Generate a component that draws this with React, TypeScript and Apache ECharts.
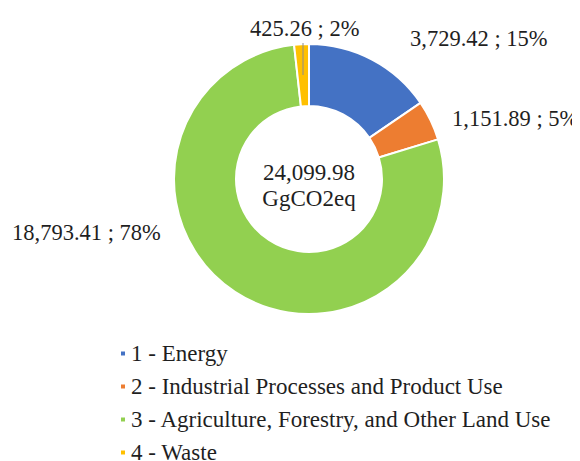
import React, { useEffect, useRef } from "react";
import * as echarts from "echarts";

const categories = [
  "1 - Energy",
  "2 - Industrial Processes and Product Use",
  "3 - Agriculture, Forestry, and Other Land Use",
  "4 - Waste",
];
const values = [3729.42, 1151.89, 18793.41, 425.26];
const percents = [15, 5, 78, 2];
const colors = ["#4472C4", "#ED7D31", "#92D050", "#FFC000"];
const totalLabel = "24,099.98";
const unitLabel = "GgCO2eq";

const FONT = "Liberation Serif, Times New Roman, serif";
const TXT = "#1f1f1f";

// label anchor (left edge, vertical middle), per data index
const labelPos = [
  { x: 402, y: 30 },
  { x: 444, y: 110 },
  { x: 4, y: 224 },
  { x: 242, y: 20 },
];

function fmt(v: number) {
  return v.toLocaleString("en-US", { minimumFractionDigits: 2, maximumFractionDigits: 2 });
}

export default function App() {
  const ref = useRef<HTMLDivElement>(null);
  useEffect(() => {
    if (!ref.current) return;
    const chart = echarts.init(ref.current, null, { renderer: "svg" });
    chart.setOption({
      animation: false,
      color: colors,
      legend: {
        orient: "vertical",
        left: 106,
        top: 329,
        height: 140,
        icon: "rect",
        itemWidth: 6,
        itemHeight: 6,
        itemGap: 10,
        data: categories,
        textStyle: { fontFamily: FONT, fontSize: 23, color: TXT, lineHeight: 23 },
      },
      graphic: [
        {
          type: "text",
          x: 301,
          y: 164,
          style: {
            text: totalLabel,
            font: `23px ${FONT}`,
            fill: TXT,
            align: "center",
            verticalAlign: "middle",
          },
        },
        {
          type: "text",
          x: 301,
          y: 190,
          style: {
            text: unitLabel,
            font: `23px ${FONT}`,
            fill: TXT,
            align: "center",
            verticalAlign: "middle",
          },
        },
        {
          type: "line",
          z: 100,
          shape: { x1: 295, y1: 35, x2: 295, y2: 67 },
          style: { stroke: "#8c8c8c", lineWidth: 1 },
        },
      ],
      series: [
        {
          type: "pie",
          center: [301, 171],
          radius: [73, 135],
          startAngle: 90,
          clockwise: true,
          itemStyle: { borderColor: "#fff", borderWidth: 2 },
          label: {
            show: true,
            position: "outside",
            fontFamily: FONT,
            fontSize: 22.5,
            color: TXT,
            overflow: "none",
            formatter: (p: any) => `${fmt(p.value)} ; ${percents[p.dataIndex]}%`,
          },
          labelLine: { show: false },
          labelLayout: (p: any) => {
            const pos = labelPos[p.dataIndex];
            return { x: pos.x, y: pos.y, align: "left", verticalAlign: "middle" };
          },
          emphasis: { disabled: true },
          data: categories.map((c, i) => ({ name: c, value: values[i] })),
        },
      ],
    });
    return () => chart.dispose();
  }, []);
  return <div ref={ref} style={{ width: 580, height: 461 }} />;
}
